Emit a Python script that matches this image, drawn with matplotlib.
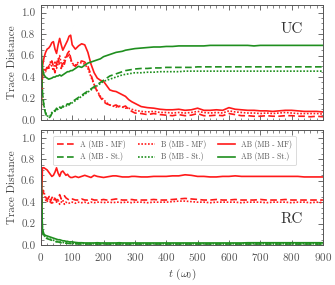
import matplotlib
matplotlib.use("Agg")
import matplotlib.pyplot as plt
from matplotlib.ticker import MultipleLocator

plt.rcParams['font.family'] = ['cmr10', 'DejaVu Serif']
plt.rcParams['mathtext.fontset'] = 'cm'
plt.rcParams['axes.formatter.use_mathtext'] = True

t = [0, 2, 5, 10, 15, 20, 25, 30, 35, 40, 45, 50, 55, 60, 65, 70, 75, 80, 85, 90, 95, 100,
     110, 120, 130, 140, 150, 160, 170, 180, 190, 200, 210, 220, 230, 240, 250, 260, 270, 280, 290, 300,
     320, 340, 360, 380, 400, 420, 440, 460, 480, 500, 520, 540, 560, 580, 600, 620, 640, 660, 680, 700,
     720, 740, 760, 780, 800, 820, 840, 860, 880, 900]

# ---- UC panel ----
uc_A_MF = [0.0, 0.20, 0.40, 0.45, 0.47, 0.48, 0.50, 0.52, 0.55, 0.50, 0.44, 0.52, 0.58, 0.50, 0.48, 0.55, 0.52, 0.58, 0.62, 0.64, 0.58, 0.52,
           0.50, 0.53, 0.55, 0.54, 0.50, 0.42, 0.33, 0.26, 0.21, 0.17, 0.15, 0.14, 0.13, 0.14, 0.12, 0.12, 0.13, 0.10, 0.08, 0.065,
           0.06, 0.05, 0.06, 0.05, 0.045, 0.04, 0.05, 0.04, 0.045, 0.06, 0.04, 0.04, 0.045, 0.04, 0.06, 0.05, 0.04, 0.04, 0.035, 0.035,
           0.04, 0.035, 0.035, 0.04, 0.04, 0.035, 0.035, 0.03, 0.035, 0.03]
uc_B_MF = [0.0, 0.22, 0.42, 0.47, 0.45, 0.50, 0.47, 0.54, 0.50, 0.46, 0.55, 0.48, 0.53, 0.60, 0.52, 0.50, 0.56, 0.60, 0.58, 0.62, 0.56, 0.53,
           0.51, 0.54, 0.53, 0.52, 0.48, 0.40, 0.33, 0.27, 0.22, 0.19, 0.16, 0.14, 0.13, 0.12, 0.13, 0.12, 0.11, 0.11, 0.10, 0.09,
           0.08, 0.075, 0.08, 0.07, 0.07, 0.065, 0.07, 0.065, 0.07, 0.08, 0.07, 0.065, 0.07, 0.065, 0.085, 0.075, 0.07, 0.065, 0.065, 0.06,
           0.065, 0.06, 0.065, 0.07, 0.065, 0.06, 0.06, 0.06, 0.06, 0.055]
uc_AB_MF = [0.0, 0.25, 0.50, 0.58, 0.63, 0.66, 0.67, 0.69, 0.72, 0.73, 0.66, 0.62, 0.70, 0.76, 0.70, 0.65, 0.68, 0.71, 0.74, 0.78, 0.79, 0.70,
            0.66, 0.69, 0.71, 0.70, 0.63, 0.52, 0.44, 0.39, 0.37, 0.36, 0.32, 0.28, 0.27, 0.265, 0.25, 0.235, 0.22, 0.19, 0.17, 0.155,
            0.125, 0.115, 0.11, 0.10, 0.095, 0.095, 0.10, 0.09, 0.095, 0.11, 0.09, 0.09, 0.095, 0.09, 0.115, 0.10, 0.095, 0.09, 0.09, 0.085,
            0.085, 0.08, 0.085, 0.09, 0.09, 0.085, 0.08, 0.08, 0.08, 0.075]
uc_A_St = [0.75, 0.45, 0.25, 0.12, 0.06, 0.03, 0.02, 0.03, 0.06, 0.09, 0.08, 0.11, 0.09, 0.12, 0.11, 0.13, 0.12, 0.14, 0.15, 0.14, 0.16, 0.17,
           0.19, 0.21, 0.23, 0.25, 0.27, 0.29, 0.31, 0.33, 0.35, 0.37, 0.39, 0.41, 0.42, 0.43, 0.44, 0.45, 0.46, 0.465, 0.47, 0.475,
           0.48, 0.48, 0.485, 0.485, 0.49, 0.49, 0.49, 0.49, 0.49, 0.495, 0.495, 0.495, 0.495, 0.495, 0.495, 0.495, 0.495, 0.495, 0.495, 0.495,
           0.495, 0.495, 0.495, 0.495, 0.495, 0.495, 0.495, 0.495, 0.495, 0.495]
uc_B_St = [0.75, 0.46, 0.26, 0.13, 0.07, 0.04, 0.03, 0.04, 0.07, 0.08, 0.09, 0.10, 0.10, 0.11, 0.12, 0.12, 0.13, 0.13, 0.14, 0.15, 0.15, 0.16,
           0.18, 0.20, 0.22, 0.24, 0.26, 0.28, 0.30, 0.32, 0.34, 0.36, 0.37, 0.38, 0.39, 0.40, 0.41, 0.42, 0.425, 0.43, 0.435, 0.44,
           0.44, 0.445, 0.445, 0.45, 0.45, 0.45, 0.45, 0.455, 0.455, 0.455, 0.455, 0.455, 0.455, 0.455, 0.455, 0.455, 0.455, 0.455, 0.455, 0.455,
           0.455, 0.455, 0.455, 0.455, 0.455, 0.455, 0.455, 0.455, 0.455, 0.455]
uc_AB_St = [0.75, 0.60, 0.48, 0.42, 0.40, 0.39, 0.38, 0.385, 0.39, 0.40, 0.40, 0.41, 0.41, 0.42, 0.41, 0.42, 0.43, 0.44, 0.45, 0.45, 0.46, 0.46,
            0.48, 0.50, 0.49, 0.51, 0.53, 0.54, 0.55, 0.56, 0.57, 0.59, 0.60, 0.61, 0.62, 0.63, 0.635, 0.64, 0.65, 0.655, 0.66, 0.665,
            0.67, 0.675, 0.68, 0.68, 0.685, 0.685, 0.69, 0.69, 0.69, 0.69, 0.69, 0.695, 0.695, 0.695, 0.695, 0.695, 0.695, 0.695, 0.69, 0.695,
            0.695, 0.695, 0.695, 0.695, 0.695, 0.695, 0.695, 0.695, 0.695, 0.695]

# ---- RC panel ----
rc_A_MF = [0.0, 0.30, 0.50, 0.48, 0.45, 0.42, 0.44, 0.40, 0.44, 0.46, 0.43, 0.41, 0.44, 0.47, 0.43, 0.45, 0.46, 0.44, 0.43, 0.42, 0.43, 0.43,
           0.42, 0.42, 0.43, 0.42, 0.42, 0.43, 0.42, 0.42, 0.42, 0.425, 0.42, 0.42, 0.425, 0.43, 0.425, 0.42, 0.42, 0.42, 0.425, 0.42,
           0.42, 0.42, 0.425, 0.42, 0.42, 0.425, 0.43, 0.435, 0.43, 0.425, 0.42, 0.42, 0.425, 0.42, 0.42, 0.425, 0.42, 0.42, 0.42, 0.425,
           0.42, 0.42, 0.42, 0.425, 0.42, 0.42, 0.42, 0.42, 0.42, 0.42]
rc_B_MF = [0.0, 0.32, 0.52, 0.50, 0.42, 0.40, 0.46, 0.42, 0.38, 0.41, 0.44, 0.40, 0.42, 0.38, 0.40, 0.42, 0.38, 0.40, 0.39, 0.39, 0.40, 0.40,
           0.39, 0.40, 0.395, 0.40, 0.39, 0.40, 0.395, 0.40, 0.40, 0.395, 0.40, 0.40, 0.395, 0.40, 0.40, 0.395, 0.40, 0.40, 0.395, 0.40,
           0.40, 0.395, 0.40, 0.40, 0.40, 0.405, 0.41, 0.41, 0.405, 0.40, 0.40, 0.395, 0.40, 0.40, 0.40, 0.40, 0.395, 0.40, 0.40, 0.40,
           0.395, 0.40, 0.40, 0.40, 0.395, 0.40, 0.40, 0.395, 0.40, 0.395]
rc_AB_MF = [0.0, 0.40, 0.72, 0.72, 0.71, 0.70, 0.68, 0.66, 0.64, 0.65, 0.68, 0.72, 0.67, 0.64, 0.68, 0.69, 0.67, 0.65, 0.66, 0.64, 0.63, 0.63,
            0.64, 0.63, 0.64, 0.65, 0.64, 0.63, 0.65, 0.64, 0.635, 0.63, 0.635, 0.64, 0.645, 0.645, 0.64, 0.635, 0.635, 0.635, 0.64, 0.64,
            0.635, 0.635, 0.64, 0.64, 0.64, 0.645, 0.645, 0.655, 0.65, 0.64, 0.64, 0.635, 0.635, 0.64, 0.64, 0.645, 0.64, 0.64, 0.64, 0.64,
            0.64, 0.64, 0.64, 0.64, 0.64, 0.64, 0.635, 0.635, 0.635, 0.635]
rc_A_St = [0.80, 0.45, 0.12, 0.08, 0.07, 0.06, 0.055, 0.05, 0.045, 0.04, 0.035, 0.03, 0.03, 0.025, 0.022, 0.02, 0.02, 0.018, 0.016, 0.015, 0.014, 0.012,
           0.012, 0.011, 0.01, 0.01, 0.01, 0.01, 0.01, 0.01, 0.01, 0.01, 0.01, 0.01, 0.01, 0.01, 0.01, 0.01, 0.01, 0.01, 0.01, 0.01,
           0.01, 0.01, 0.01, 0.01, 0.01, 0.01, 0.01, 0.01, 0.01, 0.01, 0.01, 0.01, 0.01, 0.01, 0.01, 0.01, 0.01, 0.01, 0.01, 0.01,
           0.01, 0.01, 0.01, 0.01, 0.01, 0.01, 0.01, 0.01, 0.01, 0.01]
rc_B_St = [0.80, 0.46, 0.13, 0.09, 0.075, 0.065, 0.06, 0.055, 0.05, 0.045, 0.04, 0.035, 0.032, 0.03, 0.027, 0.025, 0.022, 0.02, 0.02, 0.018, 0.017, 0.016,
           0.015, 0.014, 0.014, 0.013, 0.013, 0.013, 0.012, 0.012, 0.012, 0.012, 0.012, 0.012, 0.012, 0.012, 0.012, 0.012, 0.012, 0.012, 0.012, 0.012,
           0.012, 0.012, 0.012, 0.012, 0.012, 0.012, 0.012, 0.012, 0.012, 0.012, 0.012, 0.012, 0.012, 0.012, 0.012, 0.012, 0.012, 0.012, 0.012, 0.012,
           0.012, 0.012, 0.012, 0.012, 0.012, 0.012, 0.012, 0.012, 0.012, 0.012]
rc_AB_St = [0.80, 0.50, 0.15, 0.10, 0.09, 0.085, 0.08, 0.075, 0.07, 0.065, 0.06, 0.055, 0.05, 0.05, 0.045, 0.04, 0.04, 0.035, 0.035, 0.03, 0.03, 0.03,
            0.025, 0.022, 0.022, 0.02, 0.02, 0.02, 0.02, 0.022, 0.02, 0.02, 0.02, 0.02, 0.02, 0.02, 0.022, 0.02, 0.02, 0.02, 0.02, 0.02,
            0.02, 0.02, 0.02, 0.02, 0.02, 0.02, 0.02, 0.02, 0.02, 0.02, 0.02, 0.02, 0.02, 0.02, 0.02, 0.02, 0.02, 0.022, 0.022, 0.022,
            0.022, 0.022, 0.022, 0.022, 0.022, 0.022, 0.022, 0.022, 0.022, 0.022]

labels = ['A (MB - MF)', 'B (MB - MF)', 'AB (MB - MF)', 'A (MB - St.)', 'B (MB - St.)', 'AB (MB - St.)']
red = '#ff1a1a'
green = '#1f8f1f'

fig = plt.figure(figsize=(3.35, 2.85), dpi=100)
ax1 = fig.add_axes([0.122, 0.579, 0.842, 0.403])
ax2 = fig.add_axes([0.122, 0.140, 0.842, 0.403])

def style(ax):
    ax.set_xlim(0, 900)
    ax.set_ylim(0, 1.07)
    ax.xaxis.set_major_locator(MultipleLocator(100))
    ax.xaxis.set_minor_locator(MultipleLocator(20))
    ax.yaxis.set_major_locator(MultipleLocator(0.2))
    ax.yaxis.set_minor_locator(MultipleLocator(0.05))
    ax.tick_params(which='both', direction='in', top=True, right=True, labelsize=8,
                   colors='#555555', labelcolor='#555555')
    ax.tick_params(which='major', length=3.5, width=0.6, pad=4)
    ax.tick_params(which='minor', length=1.8, width=0.5)
    for s in ax.spines.values():
        s.set_color('#555555')
        s.set_linewidth(0.7)
    ax.set_ylabel('Trace Distance', fontsize=8, color='#444444', labelpad=3)
    ax.yaxis.set_major_formatter(matplotlib.ticker.FormatStrFormatter('%.1f'))

lw = 1.2
for ax, series in ((ax1, (uc_A_MF, uc_B_MF, uc_AB_MF, uc_A_St, uc_B_St, uc_AB_St)),
                   (ax2, (rc_A_MF, rc_B_MF, rc_AB_MF, rc_A_St, rc_B_St, rc_AB_St))):
    styles = [(red, (0, (4, 2))), (red, (0, (1, 1))), (red, '-'),
              (green, (0, (4, 2))), (green, (0, (1, 1))), (green, '-')]
    for y, (c, ls), lab in zip(series, styles, labels):
        ax.plot(t, y, color=c, ls=ls, lw=lw, label=lab)
    style(ax)

ax1.tick_params(labelbottom=False)
ax1.text(0.93, 0.79, 'UC', transform=ax1.transAxes, fontsize=11, ha='right', va='center', color='#333333')
ax2.text(0.93, 0.225, 'RC', transform=ax2.transAxes, fontsize=11, ha='right', va='center', color='#333333')
ax2.set_xlabel(r'$t$ ($\omega_0$)', fontsize=8, color='#444444', labelpad=3)

h, l = ax2.get_legend_handles_labels()
order = [0, 3, 1, 4, 2, 5]
leg = ax2.legend([h[i] for i in order], [l[i] for i in order], ncol=3, fontsize=5.5,
                 loc='upper left', bbox_to_anchor=(0.03, 0.985), frameon=True, fancybox=True,
                 handlelength=2.2, columnspacing=1.6, borderpad=0.5, labelspacing=0.5,
                 handletextpad=0.8)
leg.get_frame().set_edgecolor('#cccccc')
leg.get_frame().set_linewidth(0.6)
for txt in leg.get_texts():
    txt.set_color('#555555')

fig.savefig('out.png', dpi=100)
